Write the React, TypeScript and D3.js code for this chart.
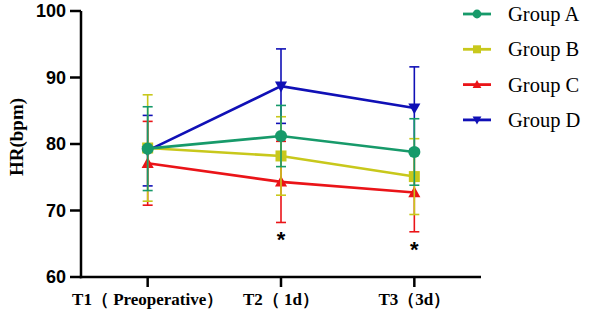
import React from "react";
import * as d3 from "d3";

const categories = ["T1（ Preoperative）", "T2（ 1d）", "T3（3d）"];
const groups = ["Group A", "Group B", "Group C", "Group D"];
const meanA = [79.3, 81.2, 78.8];
const meanB = [79.4, 78.2, 75.1];
const meanC = [77.1, 74.3, 72.7];
const meanD = [79.0, 88.7, 85.4];
const sdA = [6.3, 4.6, 5.0];
const sdB = [8.0, 5.9, 5.7];
const sdC = [6.3, 6.1, 5.9];
const sdD = [5.3, 5.6, 6.2];
const yTicks = [60, 70, 80, 90, 100];
const starCats = ["T2（ 1d）", "T3（3d）"];
const starVals = [66.3, 64.8];

const colors = ["#179a6a", "#c8c81c", "#ea1418", "#1010b6"];
const symbols = ["circle", "square", "triangle", "triangleDown"];

const W = 589, H = 317;
const x = d3.scalePoint<string>().domain(categories).range([81, 481]).padding(0.5);
const y = d3.scaleLinear().domain([60, 100]).range([277, 11]);

function Marker({ kind, cx, cy, color, s }: any) {
  if (kind === "circle") return <circle cx={cx} cy={cy} r={s * 0.55} fill={color} />;
  if (kind === "square")
    return <rect x={cx - s * 0.5} y={cy - s * 0.5} width={s} height={s} fill={color} />;
  const h = s * 0.95;
  const w = s * 1.1;
  if (kind === "triangle")
    return (
      <path
        d={`M${cx},${cy - h * 0.6}L${cx + w / 2},${cy + h * 0.45}L${cx - w / 2},${cy + h * 0.45}Z`}
        fill={color}
      />
    );
  return (
    <path
      d={`M${cx},${cy + h * 0.6}L${cx + w / 2},${cy - h * 0.45}L${cx - w / 2},${cy - h * 0.45}Z`}
      fill={color}
    />
  );
}

export default function App() {
  const means = [meanA, meanB, meanC, meanD];
  const sds = [sdA, sdB, sdC, sdD];
  const line = d3
    .line<number>()
    .x((_, i) => x(categories[i]) as number)
    .y((d) => y(d));
  const order = [3, 2, 1, 0];
  const serifStyle = { fontFamily: '"Liberation Serif", "DejaVu Serif", serif' };
  const sansStyle = { fontFamily: '"Liberation Sans", Arial, sans-serif' };
  return (
    <svg width={W} height={H} style={{ position: "absolute", left: 0, top: 0, background: "#fff" }}>
      {/* axes */}
      <line x1={81} x2={81} y1={y(100)} y2={y(60) + 1.2} stroke="#000" strokeWidth={2.5} />
      <line x1={79.8} x2={481} y1={y(60)} y2={y(60)} stroke="#000" strokeWidth={2.5} />
      {yTicks.map((t) => (
        <g key={t}>
          <line x1={70} x2={81} y1={y(t)} y2={y(t)} stroke="#000" strokeWidth={2.5} />
          <text
            x={66}
            y={y(t)}
            dy="0.36em"
            textAnchor="end"
            style={sansStyle}
            fontWeight="bold"
            fontSize={18}
          >
            {t}
          </text>
        </g>
      ))}
      {categories.map((c) => (
        <g key={c}>
          <line x1={x(c)} x2={x(c)} y1={y(60)} y2={y(60) + 10} stroke="#000" strokeWidth={2.5} />
          <text
            x={x(c)}
            y={305}
            textAnchor="middle"
            style={serifStyle}
            fontWeight="bold"
            fontSize={17}
          >
            {c}
          </text>
        </g>
      ))}
      <text
        transform={`translate(23,137) rotate(-90)`}
        textAnchor="middle"
        style={serifStyle}
        fontWeight="bold"
        fontSize={19}
      >
        HR(bpm)
      </text>
      {/* series */}
      {order.map((gi) => {
        const col = colors[gi];
        return (
          <g key={gi}>
            <path d={line(means[gi]) || ""} fill="none" stroke={col} strokeWidth={2.6} />
            {means[gi].map((m, i) => (
              <Marker
                key={i}
                kind={symbols[gi]}
                cx={x(categories[i])}
                cy={y(m)}
                color={col}
                s={11}
              />
            ))}
            {means[gi].map((m, i) => {
              const cx = x(categories[i]) as number;
              const top = y(m + sds[gi][i]);
              const bot = y(m - sds[gi][i]);
              return (
                <g key={"e" + i} stroke={col} strokeWidth={1.6}>
                  <line x1={cx} x2={cx} y1={top} y2={bot} />
                  <line x1={cx - 5} x2={cx + 5} y1={top} y2={top} />
                  <line x1={cx - 5} x2={cx + 5} y1={bot} y2={bot} />
                </g>
              );
            })}
          </g>
        );
      })}
      {starCats.map((c, i) => (
        <text
          key={c}
          x={x(c)}
          y={y(starVals[i])}
          dy="0.55em"
          textAnchor="middle"
          style={sansStyle}
          fontWeight="bold"
          fontSize={22}
        >
          *
        </text>
      ))}
      {/* legend */}
      {groups.map((g, i) => {
        const ly = 14 + i * 35.3;
        return (
          <g key={g}>
            <line x1={463} x2={491} y1={ly} y2={ly} stroke={colors[i]} strokeWidth={2.8} />
            <Marker kind={symbols[i]} cx={477} cy={ly} color={colors[i]} s={8} />
            <text x={508} y={ly} dy="0.35em" style={serifStyle} fontSize={20.5}>
              {g}
            </text>
          </g>
        );
      })}
    </svg>
  );
}
